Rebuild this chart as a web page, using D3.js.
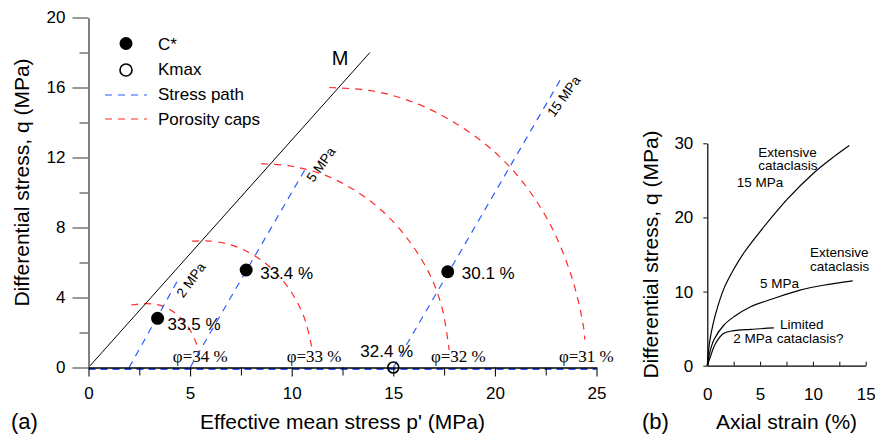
<!DOCTYPE html>
<html>
<head>
<meta charset="utf-8">
<script src="https://cdn.jsdelivr.net/npm/d3@7"></script>
<style>
  body { margin: 0; background: #fff; }
  svg text { font-family: Arial, "Liberation Sans", Helvetica, sans-serif; }
</style>
</head>
<body>
<script>

// ---------- panel (a) data ----------
var cstarP = [3.4, 7.76, 17.68];
var cstarQ = [2.81, 5.57, 5.47];
var cstarLabels = ["33.5 %", "33.4 %", "30.1 %"];

var kmaxP = [15];
var kmaxQ = [0];
var kmaxLabels = ["32.4 %"];

// stress paths start on the p' axis at the confining pressure
var pathNames = ["2 MPa", "5 MPa", "15 MPa"];
var pathStartP = [2, 5, 15];
var pathEndP = [4.45, 10.75, 23.3];
var pathEndQ = [5.1, 11.5, 16.6];

// critical state line
var lineMP = [0, 13.85];
var lineMQ = [0, 18.0];

// porosity caps, points read along each arc
var capLabels = ["\u03c6=34 %", "\u03c6=33 %", "\u03c6=32 %", "\u03c6=31 %"];
var cap34P = [2.1, 2.9, 3.6, 4.3, 4.9, 5.3, 5.45];
var cap34Q = [3.57, 3.65, 3.52, 3.08, 2.33, 1.4, 0.8];
var cap33P = [5.1, 5.8, 6.8, 7.8, 8.9, 9.9, 10.6, 10.98];
var cap33Q = [7.22, 7.24, 7.07, 6.63, 5.77, 4.45, 2.9, 1.2];
var cap32P = [8.5, 10, 11.5, 13, 14.5, 15.8, 16.8, 17.4, 17.75];
var cap32Q = [11.65, 11.5, 11.05, 10.2, 8.9, 7.2, 5.3, 3.4, 1.0];
var cap31P = [11.85, 14, 16, 18, 20, 21.5, 22.8, 23.8, 24.35, 24.42];
var cap31Q = [16.0, 15.8, 15.15, 14.0, 12.3, 10.4, 8.0, 5.1, 2.4, 1.6];

var xTicksA = [0, 5, 10, 15, 20, 25];
var xMinorA = [2.5, 7.5, 12.5, 17.5, 22.5];
var yTicksA = [0, 4, 8, 12, 16, 20];
var yMinorA = [2, 6, 10, 14, 18];

// ---------- panel (b) data ----------
var curveNames = ["15 MPa", "5 MPa", "2 MPa"];
var strain15 = [0, 0.1, 0.35, 0.75, 1.6, 2.5, 3.5, 5, 7.6, 10, 12, 13.45];
var q15 = [0, 1.9, 4.3, 6.8, 10.5, 13.0, 15.3, 18.1, 22.5, 25.9, 28.2, 29.7];
var strain5 = [0, 0.2, 0.63, 1.58, 2.52, 4.1, 6.3, 8.78, 11, 13.77];
var q5 = [0, 1.6, 3.5, 5.49, 6.6, 7.95, 9.07, 10.2, 10.85, 11.43];
var strain2 = [0, 0.31, 0.78, 1.57, 2.52, 4.1, 6.3];
var q2 = [0, 1.3, 3.0, 4.37, 4.73, 4.91, 5.09];

var xTicksB = [0, 2.5, 5, 7.5, 10, 12.5, 15];
var yTicksB = [0, 10, 20, 30];

// ------------------------------------------------------------

var width = 875, height = 438;
var red = "#ff2a2a", blue = "#2f5cff";
var serif = "'Times New Roman', 'Liberation Serif', serif";

var svg = d3.select("body").append("svg")
    .attr("width", width)
    .attr("height", height);

function zip(a, b) {
    return a.map(function (d, i) { return [d, b[i]]; });
}

// ================= panel (a) =================
var x = d3.scaleLinear().domain([0, 25]).range([88.5, 596.5]);
var y = d3.scaleLinear().domain([0, 20]).range([367.5, 17.5]);

var lineA = d3.line()
    .x(function (d) { return x(d[0]); })
    .y(function (d) { return y(d[1]); });

// hydrostatic part of the stress paths, along the p' axis
svg.append("path")
    .attr("d", lineA([[0, 0], [25, 0]]))
    .attr("transform", "translate(0,1.5)")
    .attr("fill", "none")
    .attr("stroke", blue)
    .attr("stroke-width", 2.2)
    .attr("stroke-dasharray", "7,5");

// porosity caps
var caps = [zip(cap34P, cap34Q), zip(cap33P, cap33Q), zip(cap32P, cap32Q), zip(cap31P, cap31Q)];
var capLine = d3.line()
    .x(function (d) { return x(d[0]); })
    .y(function (d) { return y(d[1]); })
    .curve(d3.curveCatmullRom);

svg.selectAll(".cap")
    .data(caps)
    .enter().append("path")
    .attr("class", "cap")
    .attr("d", capLine)
    .attr("fill", "none")
    .attr("stroke", red)
    .attr("stroke-width", 1.2)
    .attr("stroke-dasharray", "7,6");

// cap labels sit under the end of each arc
var capLabelP = [5.5, 11.1, 18.2, 24.5];
svg.selectAll(".caplab")
    .data(capLabels)
    .enter().append("text")
    .attr("class", "caplab")
    .attr("x", function (d, i) { return x(capLabelP[i]); })
    .attr("y", y(0) - 5.5)
    .attr("text-anchor", "middle")
    .style("font-family", serif)
    .attr("font-size", 17)
    .text(function (d) { return d; });

// stress paths
svg.selectAll(".spath")
    .data(pathStartP)
    .enter().append("path")
    .attr("class", "spath")
    .attr("d", function (d, i) { return lineA([[d, 0], [pathEndP[i], pathEndQ[i]]]); })
    .attr("fill", "none")
    .attr("stroke", blue)
    .attr("stroke-width", 1.2)
    .attr("stroke-dasharray", "7,6");

// rotated confining pressure labels next to the paths
var pathLabelQ = [5.0, 11.6, 15.5];
svg.selectAll(".plab")
    .data(pathNames)
    .enter().append("text")
    .attr("class", "plab")
    .attr("transform", function (d, i) {
        var q = pathLabelQ[i];
        var p = pathStartP[i] + (pathEndP[i] - pathStartP[i]) * q / pathEndQ[i];
        return "translate(" + (x(p) + 13) + "," + y(q) + ") rotate(-54)";
    })
    .attr("text-anchor", "middle")
    .attr("dy", "0.35em")
    .attr("font-size", 13.5)
    .text(function (d) { return d; });

// M line
svg.append("path")
    .attr("d", lineA(zip(lineMP, lineMQ)))
    .attr("fill", "none")
    .attr("stroke", "#000")
    .attr("stroke-width", 1);

svg.append("text")
    .attr("x", 340)
    .attr("y", 65)
    .attr("text-anchor", "middle")
    .attr("font-size", 20)
    .text("M");

// axes
function styleAxis(g, color, w, fs) {
    g.attr("font-family", null).attr("font-size", null);
    g.select(".domain").attr("stroke", color).attr("stroke-width", w);
    g.selectAll(".tick line").attr("stroke", color).attr("stroke-width", w * 0.8);
    g.selectAll(".tick text").attr("font-size", fs).attr("fill", "#000");
}

var gy = svg.append("g")
    .attr("transform", "translate(" + x(0) + ",0)")
    .call(d3.axisLeft(y).tickValues(yTicksA).tickSize(16).tickSizeOuter(0).tickPadding(7));
styleAxis(gy, "#808080", 2, 17);

var gym = svg.append("g")
    .attr("transform", "translate(" + x(0) + ",0)")
    .call(d3.axisLeft(y).tickValues(yMinorA).tickSize(9).tickFormat(""));
gym.select(".domain").remove();
gym.selectAll(".tick line").attr("stroke", "#808080").attr("stroke-width", 1.6);

var gx = svg.append("g")
    .attr("transform", "translate(0," + y(0) + ")")
    .call(d3.axisBottom(x).tickValues(xTicksA).tickSize(9).tickSizeOuter(0).tickPadding(10));
styleAxis(gx, "#000", 1.3, 17);

var gxm = svg.append("g")
    .attr("transform", "translate(0," + y(0) + ")")
    .call(d3.axisBottom(x).tickValues(xMinorA).tickSize(8).tickFormat(""));
gxm.select(".domain").remove();
gxm.selectAll(".tick line").attr("stroke", "#000").attr("stroke-width", 1);

// C* points
svg.selectAll(".cstar")
    .data(cstarP)
    .enter().append("circle")
    .attr("class", "cstar")
    .attr("cx", function (d) { return x(d); })
    .attr("cy", function (d, i) { return y(cstarQ[i]); })
    .attr("r", 6.5)
    .attr("fill", "#000");

var cstarNudge = [[10, 12], [14, 9], [14, 7]];
svg.selectAll(".cstarlab")
    .data(cstarLabels)
    .enter().append("text")
    .attr("class", "cstarlab")
    .attr("x", function (d, i) { return x(cstarP[i]) + cstarNudge[i][0]; })
    .attr("y", function (d, i) { return y(cstarQ[i]) + cstarNudge[i][1]; })
    .attr("font-size", 17)
    .text(function (d) { return d; });

// Kmax
svg.selectAll(".kmax")
    .data(kmaxP)
    .enter().append("circle")
    .attr("class", "kmax")
    .attr("cx", function (d) { return x(d); })
    .attr("cy", function (d, i) { return y(kmaxQ[i]); })
    .attr("r", 5.5)
    .attr("fill", "none")
    .attr("stroke", "#000")
    .attr("stroke-width", 1.6);

svg.selectAll(".kmaxlab")
    .data(kmaxLabels)
    .enter().append("text")
    .attr("class", "kmaxlab")
    .attr("x", function (d, i) { return x(kmaxP[i]) - 33; })
    .attr("y", function (d, i) { return y(kmaxQ[i]) - 11; })
    .attr("font-size", 17)
    .text(function (d) { return d; });

// legend
var legend = svg.append("g").attr("transform", "translate(105,0)");
legend.append("circle").attr("cx", 21).attr("cy", 43.5).attr("r", 6.5).attr("fill", "#000");
legend.append("circle").attr("cx", 21).attr("cy", 70).attr("r", 6)
    .attr("fill", "none").attr("stroke", "#000").attr("stroke-width", 1.6);
legend.append("line").attr("x1", 0).attr("x2", 42).attr("y1", 95).attr("y2", 95)
    .attr("stroke", blue).attr("stroke-width", 1.2).attr("stroke-dasharray", "7,6");
legend.append("line").attr("x1", 0).attr("x2", 42).attr("y1", 119).attr("y2", 119)
    .attr("stroke", red).attr("stroke-width", 1.2).attr("stroke-dasharray", "7,6");
legend.selectAll("text")
    .data(["C*", "Kmax", "Stress path", "Porosity caps"])
    .enter().append("text")
    .attr("x", 53)
    .attr("y", function (d, i) { return 50 + i * 25; })
    .attr("font-size", 17)
    .text(function (d) { return d; });

// titles
svg.append("text")
    .attr("x", x(12.5))
    .attr("y", 429)
    .attr("text-anchor", "middle")
    .attr("font-size", 21)
    .text("Effective mean stress p' (MPa)");

svg.append("text")
    .attr("transform", "translate(29,182.5) rotate(-90)")
    .attr("text-anchor", "middle")
    .attr("font-size", 21)
    .text("Differential stress, q (MPa)");

svg.append("text")
    .attr("x", 11)
    .attr("y", 429)
    .attr("font-size", 22)
    .text("(a)");

// ================= panel (b) =================
var x2 = d3.scaleLinear().domain([0, 15]).range([707.3, 865.7]);
var y2 = d3.scaleLinear().domain([0, 30]).range([365.7, 143.3]);

var lineB = d3.line()
    .x(function (d) { return x2(d[0]); })
    .y(function (d) { return y2(d[1]); })
    .curve(d3.curveCatmullRom.alpha(0.5));

svg.selectAll(".curve")
    .data([zip(strain15, q15), zip(strain5, q5), zip(strain2, q2)])
    .enter().append("path")
    .attr("class", "curve")
    .attr("d", lineB)
    .attr("fill", "none")
    .attr("stroke", "#000")
    .attr("stroke-width", 1.2);

var gy2 = svg.append("g")
    .attr("transform", "translate(" + x2(0) + ",0)")
    .call(d3.axisLeft(y2).tickValues(yTicksB).tickSize(4).tickSizeOuter(0).tickPadding(10));
styleAxis(gy2, "#000", 1.2, 17);

var gx2 = svg.append("g")
    .attr("transform", "translate(0," + y2(0) + ")")
    .call(d3.axisBottom(x2).tickValues(xTicksB).tickSize(-4).tickSizeOuter(0).tickPadding(22)
        .tickFormat(function (d) { return d % 5 === 0 ? d : ""; }));
styleAxis(gx2, "#000", 1.2, 17);

// annotations on panel (b), placed in data units
var notes = [
    ["Extensive", 4.83, 28.2], ["cataclasis", 4.83, 26.4], [curveNames[0], 2.78, 24.07],
    ["Extensive", 9.73, 14.63], ["cataclasis", 9.73, 12.82], [curveNames[1], 4.99, 10.45],
    ["Limited", 6.88, 4.91], ["cataclasis?", 6.57, 3.02], [curveNames[2], 2.46, 3.02]
];
svg.selectAll(".note")
    .data(notes)
    .enter().append("text")
    .attr("class", "note")
    .attr("x", function (d) { return x2(d[1]); })
    .attr("y", function (d) { return y2(d[2]); })
    .attr("font-size", 13.5)
    .text(function (d) { return d[0]; });

svg.append("text")
    .attr("x", x2(7.5))
    .attr("y", 429)
    .attr("text-anchor", "middle")
    .attr("font-size", 21)
    .text("Axial strain (%)");

svg.append("text")
    .attr("transform", "translate(658," + y2(15) + ") rotate(-90)")
    .attr("text-anchor", "middle")
    .attr("font-size", 21)
    .text("Differential stress, q (MPa)");

svg.append("text")
    .attr("x", 642)
    .attr("y", 429)
    .attr("font-size", 22)
    .text("(b)");

</script>
</body>
</html>
